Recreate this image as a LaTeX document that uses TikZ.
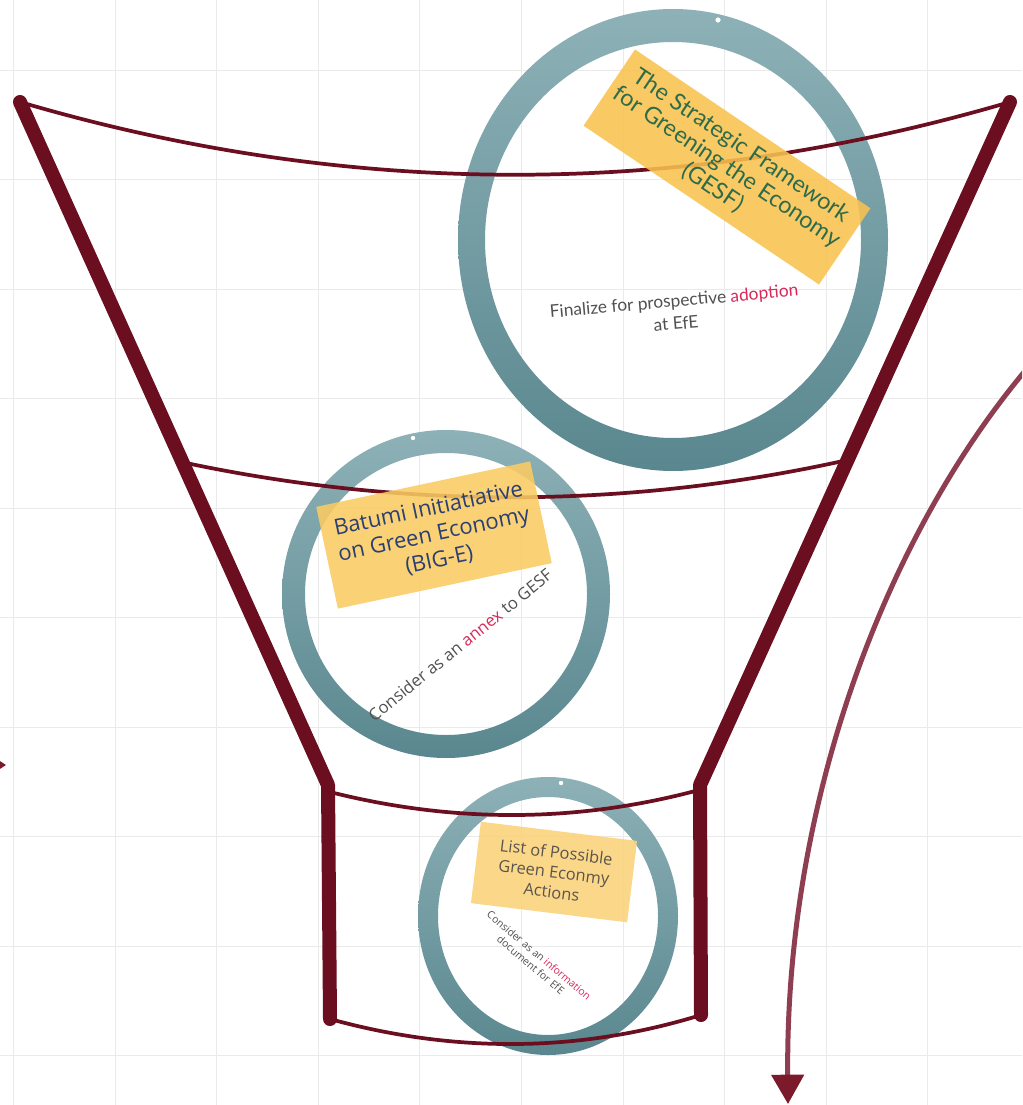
\documentclass[tikz,border=0pt]{standalone}
\usepackage{fontspec}
\newfontfamily\latofont{Lato}
\newfontfamily\opensansfont{Open Sans}
\usetikzlibrary{arrows.meta}
\usetikzlibrary{decorations.markings}
\usetikzlibrary{positioning}
\definecolor{funnelred}{HTML}{6B0E1F}
\definecolor{ringtop}{HTML}{8DB1B7}
\definecolor{ringbottom}{HTML}{5A878F}
\definecolor{stickyyellow}{HTML}{F9C24F}
\definecolor{stickylight}{HTML}{FACB62}
\definecolor{stickypale}{HTML}{FBD27A}
\definecolor{flowred}{HTML}{8E3E50}
\definecolor{flowtip}{HTML}{7A1A2B}
\definecolor{hotpink}{HTML}{D8285A}
\definecolor{capgray}{HTML}{505050}
\definecolor{gridgray}{HTML}{EAEAEA}
\definecolor{gesfgreen}{HTML}{2E6B4A}
\definecolor{bigenavy}{HTML}{2A3F73}
\definecolor{listbrown}{HTML}{5A554C}
\tikzset{funnel/.style = {line width=10.5pt, color=funnelred,
                          line cap=round, line join=round}}
\tikzset{rope/.style = {line width=2.8pt, color=funnelred}}
\tikzset{ring/.style = {top color=ringtop, bottom color=ringbottom, even odd rule}}
\tikzset{sticky/.style = {fill=stickyyellow, fill opacity=0.88, text opacity=1,
                          align=center, inner sep=0pt}}
\tikzset{caption/.style = {text=capgray, align=center}}
\tikzset{flow/.style = {line width=3.75pt, color=flowred,
                        -{Triangle[width=24pt,length=22pt,color=flowtip]}}}
\tikzset{gridline/.style = {line width=0.6pt, color=gridgray}}

\begin{document}
\begin{tikzpicture}[x=0.75pt, y=-0.75pt]
    \clip (0,0) rectangle (1022,1105);
    \fill[white] (0,0) rectangle (1022,1105);
    \foreach \gx in {13,115,216,318,419,521,623,724,826,927}
      \draw[gridline] (\gx,0) -- (\gx,1105);
    \foreach \gy in {70,179,289,398,508,617,727,836,946,1055}
      \draw[gridline] (0,\gy) -- (1022,\gy);

    % rings
    \coordinate (gesf) at (673,240);
    \coordinate (bige) at (446,594);
    \coordinate (list) at (548,916);
    \shade[ring] (gesf) ellipse [x radius=215, y radius=231]
                 (gesf) ellipse [x radius=188, y radius=198];
    \shade[ring] (bige) ellipse [x radius=164, y radius=164]
                 (bige) ellipse [x radius=141, y radius=141];
    \shade[ring] (list) ellipse [x radius=130, y radius=139]
                 (list) ellipse [x radius=110, y radius=119];
    \fill[white] (718,20) circle [radius=2.6];
    \fill[white] (413,438) circle [radius=2.2];
    \fill[white] (561,783) circle [radius=2.2];

    % funnel
    \coordinate (tl) at (20,102);
    \coordinate (tr) at (1010,102);
    \coordinate (kl) at (328,785);
    \coordinate (kr) at (700,785);
    \coordinate (bl) at (330,1019);
    \coordinate (br) at (701,1015);
    \coordinate (ml) at (186,463);
    \coordinate (mr) at (843,461);
    \coordinate (ll) at (330,792);
    \coordinate (lr) at (699,790);
    \draw[rope] (tl) .. controls +(330,97) and +(-330,97) .. (tr);
    \draw[rope] (ml) .. controls +(219,46) and +(-219,48) .. (mr);
    \draw[rope] (ll) .. controls +(123,31) and +(-123,33) .. (lr);
    \draw[rope] (bl) .. controls +(123,34) and +(-123,38) .. (br);
    \draw[funnel] (tl) -- (kl) -- (bl);
    \draw[funnel] (tr) -- (kr) -- (br);

    % outflow
    \coordinate (flowin) at (1030,365);
    \coordinate (flowout) at (788,1104);
    \draw[flow] (flowin) .. controls +(-145,170) and +(-3,-300) .. (flowout);
    \fill[flowtip] (-14,752) -- (6,765) -- (-14,778) -- cycle;

    % notes
    \node[sticky, rotate=-34, minimum width=213pt, minimum height=69pt,
          text=gesfgreen, font=\latofont\fontsize{17.5}{19}\selectfont]
      (gesfnote) at (727,167) {The Strategic Framework\\for Greening the Economy\\(GESF)};
    \node[caption, rotate=5, font=\latofont\fontsize{13}{17}\selectfont]
      (gesftask) at (675,312) {Finalize for prospective \textcolor{hotpink}{adoption}\\at EfE};
    \node[sticky, fill=stickylight, rotate=12, minimum width=164pt, minimum height=78pt,
          text=bigenavy, font=\opensansfont\fontsize{16.5}{19.5}\selectfont]
      (bigenote) at (434,535) {Batumi Initiatiative\\on Green Economy\\(BIG-E)};
    \node[caption, rotate=39, font=\opensansfont\fontsize{12.5}{15}\selectfont]
      (bigetask) at (460,645) {Consider as an \textcolor{hotpink}{annex} to GESF};
    \node[sticky, fill=stickypale, rotate=-7, minimum width=118pt, minimum height=61.5pt,
          text=listbrown, font=\opensansfont\fontsize{12.3}{15}\selectfont]
      (listnote) at (554,872) {List of Possible\\Green Econmy\\Actions};
    \node[caption, rotate=-40, font=\opensansfont\fontsize{7.8}{9.5}\selectfont]
      (listtask) at (535,960) {Consider as an \textcolor{hotpink}{information}\\document for EfE};
\end{tikzpicture}
\end{document}
